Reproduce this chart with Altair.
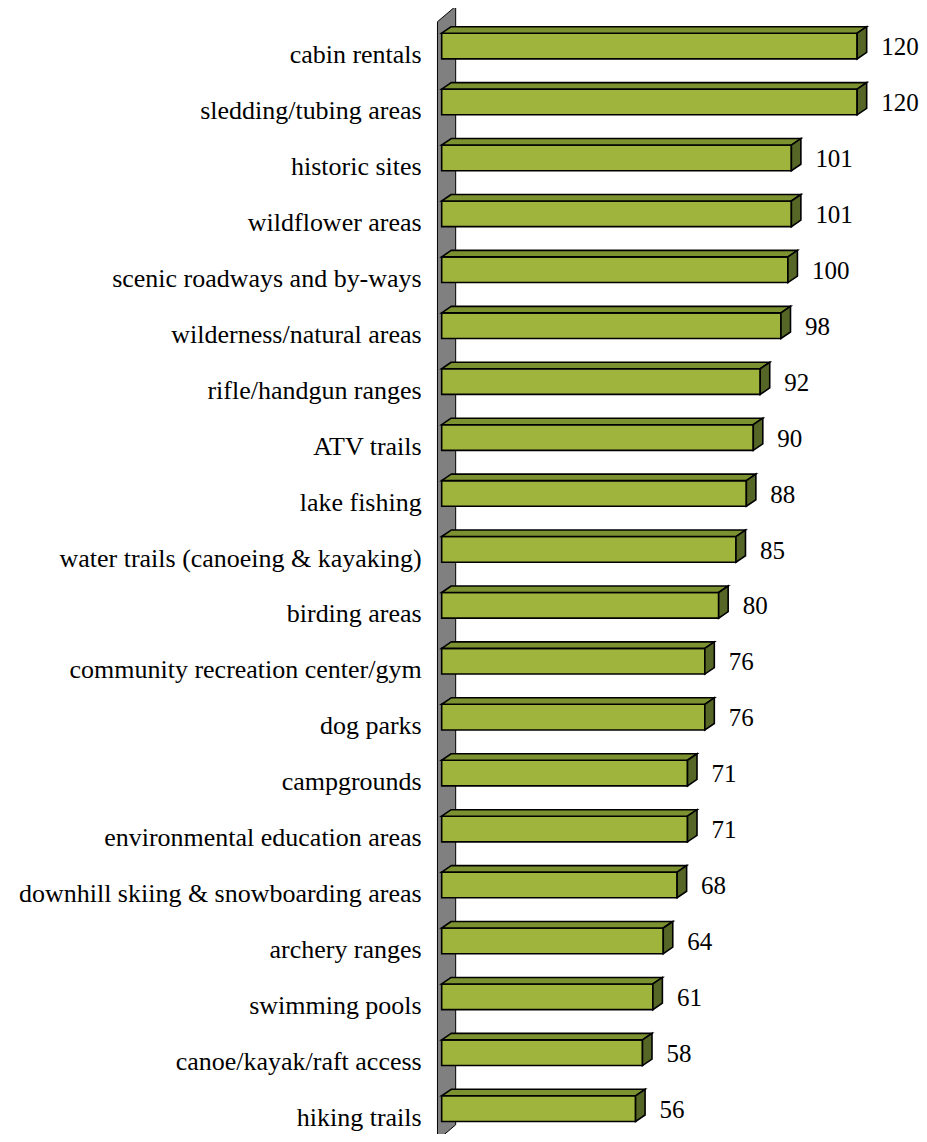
import altair as alt
import pandas as pd

# ---- data ----
categories = [
    "cabin rentals", "sledding/tubing areas", "historic sites", "wildflower areas",
    "scenic roadways and by-ways", "wilderness/natural areas", "rifle/handgun ranges",
    "ATV trails", "lake fishing", "water trails (canoeing & kayaking)", "birding areas",
    "community recreation center/gym", "dog parks", "campgrounds",
    "environmental education areas", "downhill skiing & snowboarding areas",
    "archery ranges", "swimming pools", "canoe/kayak/raft access", "hiking trails",
]
values = [120, 120, 101, 101, 100, 98, 92, 90, 88, 85, 80, 76, 76, 71, 71, 68, 64, 61, 58, 56]
n = len(categories)
tick_positions = list(range(n + 1))

# ---- geometry / style constants ----
PX_PER_UNIT = 3.4625
X_MAX = 135
PLOT_W = X_MAX * PX_PER_UNIT
BAND_PX = 55.93
PLOT_H = n * BAND_PX
FRONT_TOP = 0.205          # front face top, in band units from band start
FRONT_BOT = 0.664
DX = 9.5 / PX_PER_UNIT     # 3D depth, value units
DY = 6.5 / BAND_PX         # 3D depth, band units
WALL_X0 = -4.2 / PX_PER_UNIT
WALL_X1 = 14.0 / PX_PER_UNIT
WALL_DY = 15.5 / BAND_PX

FRONT = "#9EB43C"
TOP = "#7C9130"
SIDE = "#566626"
FONT = "Liberation Serif, Times New Roman, Times, serif"

bars = pd.DataFrame({"cat": categories, "value": values})
bars["idx"] = range(n)
bars["start"] = 0
bars["center"] = bars["idx"] + 0.5
bars["top"] = bars["idx"] + FRONT_TOP
bars["bot"] = bars["idx"] + FRONT_BOT

top_rows, side_rows = [], []
for c, v, t, b in zip(bars["cat"], bars["value"], bars["top"], bars["bot"]):
    top_rows.append({"cat": c, "y": t, "x": 0, "x2": v})
    top_rows.append({"cat": c, "y": t - DY, "x": DX, "x2": v + DX})
    side_rows.append({"cat": c, "x": v, "y": t, "y2": b})
    side_rows.append({"cat": c, "x": v + DX, "y": t - DY, "y2": b - DY})
top_df = pd.DataFrame(top_rows)
side_df = pd.DataFrame(side_rows)
wall_df = pd.DataFrame({
    "x": [WALL_X0, WALL_X1],
    "y": [0, -WALL_DY],
    "y2": [n, n - WALL_DY],
})

xs = alt.Scale(domain=[0, X_MAX], nice=False, zero=False)
ys = alt.Scale(domain=[0, n], reverse=True, nice=False, zero=False)

y_axis = alt.Axis(values=tick_positions, labels=False, tickSize=10.5, offset=4.2,
                  domainColor="black", tickColor="black", domainWidth=1, tickWidth=1,
                  grid=False, title=None)

wall = alt.Chart(wall_df).mark_area(
    orient="vertical", color="#808080", stroke="black", strokeWidth=1, opacity=1
).encode(
    x=alt.X("x:Q", scale=xs, axis=None),
    y=alt.Y("y:Q", scale=ys, axis=y_axis),
    y2="y2:Q",
)

front = alt.Chart(bars).mark_rect(
    color=FRONT, stroke="black", strokeWidth=1.6
).encode(
    x=alt.X("start:Q", scale=xs, axis=None),
    x2="value:Q",
    y=alt.Y("top:Q", scale=ys, axis=None),
    y2="bot:Q",
)

top = alt.Chart(top_df).mark_area(
    orient="horizontal", color=TOP, stroke="black", strokeWidth=1.6, opacity=1
).encode(
    y=alt.Y("y:Q", scale=ys, axis=None),
    x=alt.X("x:Q", scale=xs, axis=None),
    x2="x2:Q",
    detail="cat:N",
)

side = alt.Chart(side_df).mark_area(
    orient="vertical", color=SIDE, stroke="black", strokeWidth=1.6, opacity=1
).encode(
    x=alt.X("x:Q", scale=xs, axis=None),
    y=alt.Y("y:Q", scale=ys, axis=None),
    y2="y2:Q",
    detail="cat:N",
)

cat_labels = alt.Chart(bars).mark_text(
    align="right", baseline="alphabetic", dy=13.5, font=FONT, fontSize=26, color="black"
).encode(
    x=alt.value(-20),
    y=alt.Y("center:Q", scale=ys, axis=None),
    text="cat:N",
)

val_labels = alt.Chart(bars).mark_text(
    align="left", baseline="alphabetic", dx=24, dy=5.5, font=FONT, fontSize=25, color="black"
).encode(
    x=alt.X("value:Q", scale=xs, axis=None),
    y=alt.Y("center:Q", scale=ys, axis=None),
    text="value:Q",
)

chart = alt.layer(wall, front, top, side, cat_labels, val_labels).properties(
    width=PLOT_W,
    height=PLOT_H,
    autosize="none",
    padding={"left": 433.7, "top": 13.7, "right": 9.9, "bottom": -6.3},
    background="white",
).configure_view(stroke=None)

chart.save("out.html", embed_options={"renderer": "svg", "actions": False})
